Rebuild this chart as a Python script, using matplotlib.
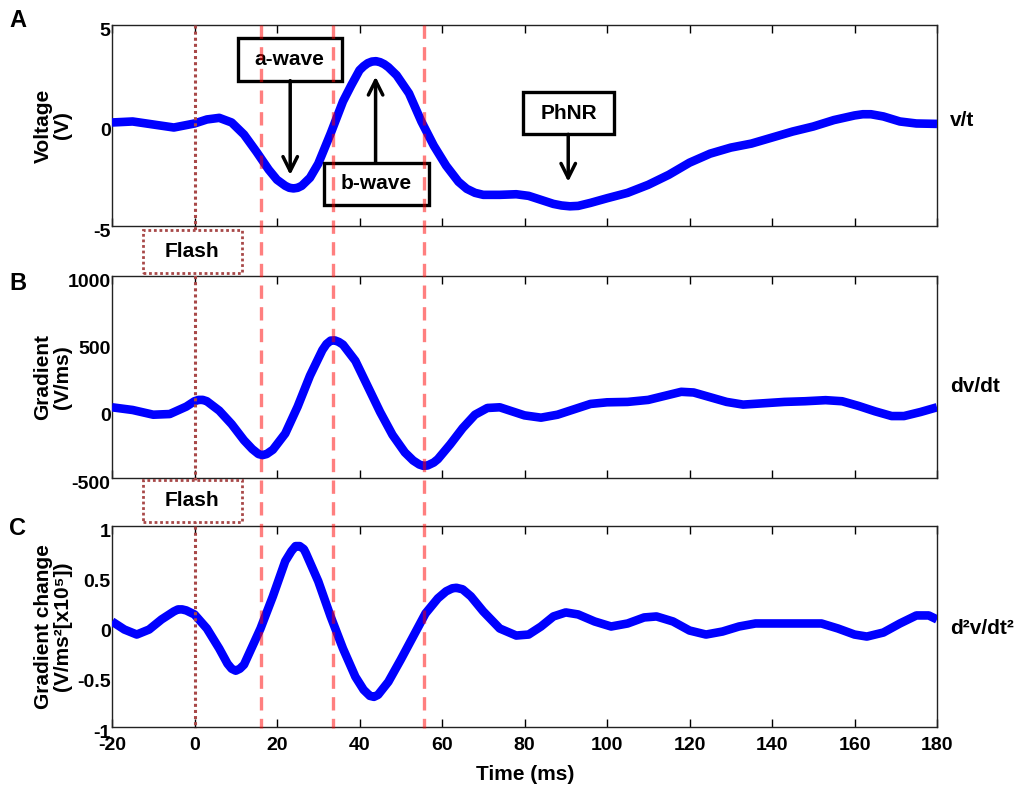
import matplotlib
matplotlib.use("Agg")
import matplotlib.pyplot as plt
from matplotlib.patches import Rectangle
from matplotlib.lines import Line2D
import matplotlib.transforms as mtransforms

plt.rcParams['font.family'] = ['Liberation Sans', 'DejaVu Sans']
plt.rcParams['font.weight'] = 'bold'
plt.rcParams['axes.unicode_minus'] = False

# ---------------- data ----------------
t_a = [-20, -15, -10, -5, 0, 3, 6, 9, 12, 15, 18, 20, 22, 23, 24, 25, 26, 28, 30, 33, 36, 38,
       40, 41, 42, 43, 44, 45, 46, 47, 49, 52, 55, 58, 61, 64, 66, 68, 70, 74, 78, 81, 84,
       87, 89, 91, 93, 96, 100, 105, 110, 115, 120, 125, 130, 135, 140, 145, 150, 155, 160,
       162, 164, 167, 171, 175, 180]
v_a = [0.15, 0.2, 0.05, -0.1, 0.1, 0.3, 0.38, 0.15, -0.45, -1.3, -2.2, -2.7, -3.0, -3.1,
       -3.13, -3.1, -3.0, -2.6, -1.9, -0.4, 1.2, 2.0, 2.75, 2.95, 3.1, 3.18, 3.2, 3.15, 3.05,
       2.9, 2.5, 1.6, 0.2, -1.0, -2.0, -2.8, -3.15, -3.35, -3.45, -3.45, -3.42, -3.5, -3.7,
       -3.9, -3.98, -4.02, -4.0, -3.85, -3.62, -3.35, -2.95, -2.45, -1.85, -1.4, -1.1, -0.9,
       -0.6, -0.3, -0.05, 0.27, 0.5, 0.56, 0.56, 0.45, 0.2, 0.1, 0.08]

t_b = [-20, -15, -10, -6, -2, 0, 1, 2, 3, 6, 9, 12, 14, 15.5, 16.5, 17.5, 19, 22, 25, 28,
       31, 32, 33, 34, 35, 36, 39, 42, 45, 48, 51, 53, 54.5, 55.5, 56.5, 58, 59, 62, 65,
       68, 71, 74, 77, 80, 84, 88, 92, 96, 100, 105, 110, 114, 118, 121, 125, 129, 133,
       138, 143, 148, 153, 157, 161, 165, 169, 172, 176, 180]
v_b = [25, 5, -30, -25, 30, 70, 80, 80, 70, 0, -100, -220, -285, -322, -330, -322, -290,
       -170, 30, 260, 450, 495, 520, 522, 510, 490, 370, 180, -10, -180, -310, -370, -400,
       -410, -407, -385, -360, -250, -130, -30, 20, 25, -5, -35, -52, -30, 10, 50, 62, 65,
       80, 110, 140, 135, 100, 65, 45, 55, 65, 70, 78, 70, 35, -5, -40, -40, -10, 25]

t_c = [-20, -17, -14, -11, -8, -5, -4, -3, -2, 0, 3, 6, 8, 9, 10, 11, 12, 14, 16, 19, 22,
       23.5, 24.5, 25.5, 26.5, 27, 30, 33, 36, 39, 41, 42.5, 43.5, 44.5, 47, 50, 53, 56, 59,
       61, 62.5, 63.5, 65, 67, 70, 74, 78, 81, 84, 87, 90, 93, 97, 101, 105, 109, 112, 116,
       120, 124, 128, 132, 136, 145, 152, 156, 160, 163, 167, 171, 175, 178, 180]
v_c = [0.05, -0.03, -0.08, -0.03, 0.07, 0.15, 0.17, 0.17, 0.16, 0.12, -0.02, -0.22, -0.37,
       -0.42, -0.44, -0.42, -0.38, -0.2, -0.02, 0.3, 0.65, 0.75, 0.8, 0.8, 0.77, 0.73, 0.45,
       0.1, -0.22, -0.5, -0.63, -0.69, -0.7, -0.68, -0.55, -0.33, -0.1, 0.13, 0.28, 0.35,
       0.38, 0.385, 0.37, 0.3, 0.15, -0.02, -0.09, -0.08, 0.0, 0.1, 0.14, 0.12, 0.05, 0.0,
       0.03, 0.09, 0.1, 0.05, -0.04, -0.08, -0.05, 0.0, 0.03, 0.03, 0.03, -0.02, -0.08, -0.1,
       -0.06, 0.03, 0.11, 0.11, 0.07]

x_ticks = [-20, 0, 20, 40, 60, 80, 100, 120, 140, 160, 180]
yticks_a = [-5, 0, 5]
yticks_b = [-500, 0, 500, 1000]
yticks_c = [-1, -0.5, 0, 0.5, 1]
ytl_c = ['-1', '-0.5', '0', '0.5', '1']
flash_t = 0
marker_t = [16, 33.5, 55.7]

ylabels = ["Voltage\n(V)", "Gradient\n(V/ms)", "Gradient change\n(V/ms\u00b2[x10\u2075])"]
right_labels = ["v/t", "dv/dt", "d\u00b2v/dt\u00b2"]

# ---------------- figure ----------------
W, H = 1020, 795
fig = plt.figure(figsize=(W / 100, H / 100), dpi=100)

def fx(px):
    return px / W

def fy(py):
    return 1 - py / H

left, right = 112, 937
panels = [(25, 226), (276, 478), (526, 727)]
axes = []
for top, bot in panels:
    ax = fig.add_axes([fx(left), fy(bot), fx(right - left), (bot - top) / H])
    axes.append(ax)

series = [(t_a, v_a, (-5, 5), yticks_a, [str(v) for v in yticks_a]),
          (t_b, v_b, (-500, 1000), yticks_b, [str(v) for v in yticks_b]),
          (t_c, v_c, (-1, 1), yticks_c, ytl_c)]

offset = mtransforms.ScaledTranslation(0, -3 / 72, fig.dpi_scale_trans)
for i, (ax, (t, v, yl, yt, ytl)) in enumerate(zip(axes, series)):
    ax.plot(t, v, color='#0000ff', lw=6.2, solid_capstyle='butt', solid_joinstyle='round', zorder=3)
    ax.set_xlim(-20, 180)
    ax.set_ylim(*yl)
    ax.set_xticks(x_ticks)
    ax.set_xticklabels([str(x) for x in x_ticks])
    ax.set_yticks(yt)
    ax.set_yticklabels(ytl)
    ax.tick_params(axis='x', direction='in', top=True, bottom=True, length=6, width=1,
                   labelsize=14, pad=7, labelbottom=(i == 2))
    ax.tick_params(axis='y', length=0, labelsize=14, pad=1)
    for lab in ax.get_yticklabels():
        lab.set_transform(lab.get_transform() + offset)
    for sp in ax.spines.values():
        sp.set_linewidth(1.0)
        sp.set_color('#222222')
    ax.set_ylabel(ylabels[i], fontsize=15, fontweight='bold', linespacing=1.0)
    ax.yaxis.set_label_coords(-0.049, 0.5)

# vertical marker lines across all panels
blend = mtransforms.blended_transform_factory(axes[0].transData, fig.transFigure)
fig.add_artist(Line2D([flash_t, flash_t], [fy(25), fy(728)], transform=blend,
                      color='#a84848', lw=2.2, ls=(0, (1, 1)), zorder=4))
for mt in marker_t:
    fig.add_artist(Line2D([mt, mt], [fy(25), fy(728)], transform=blend,
                          color='#ff0000', alpha=0.5, lw=2.4, ls=(0, (4, 2.5)), zorder=4))

# Flash boxes
for top, bot in [(230, 273), (480, 522)]:
    r = Rectangle((-12.4, fy(bot)), 23.8, (bot - top) / H, transform=blend,
                  facecolor='white', edgecolor='#a84848', lw=2, ls=(0, (1, 1)), zorder=5)
    fig.add_artist(r)
    fig.text(fx(192), fy((top + bot) / 2), "Flash", ha='center', va='center',
             fontsize=15, fontweight='bold', zorder=6)

# annotation boxes in panel A
axA = axes[0]
boxes = [("a-wave", (10.5, 35.7, 2.23, 4.35), (23.2, 2.23), (23.2, -2.46)),
         ("b-wave", (31.5, 56.8, -3.96, -1.85), (43.9, -1.85), (43.9, 2.43)),
         ("PhNR", (79.7, 101.7, -0.44, 1.65), (90.6, -0.44), (90.6, -2.8))]
for txt, (x0, x1, y0, y1), start, end in boxes:
    axA.add_patch(Rectangle((x0, y0), x1 - x0, y1 - y0, facecolor='white', edgecolor='black',
                            lw=2.4, zorder=6, clip_on=False))
    axA.text((x0 + x1) / 2, (y0 + y1) / 2, txt, ha='center', va='center', fontsize=15,
             fontweight='bold', zorder=7)
    axA.annotate("", xy=end, xytext=start,
                 arrowprops=dict(arrowstyle='->', color='black', lw=2.5, mutation_scale=26,
                                 shrinkA=0, shrinkB=0), zorder=6)

# right-side labels
for lab, yy in zip(right_labels, [121, 386, 628]):
    fig.text(fx(950), fy(yy), lab, ha='left', va='center', fontsize=15, fontweight='bold')

# panel letters
for lab, yy in zip("ABC", [27, 290, 535]):
    fig.text(fx(9), fy(yy), lab, ha='left', va='baseline', fontsize=17, fontweight='bold')

fig.text(fx(525), fy(775), "Time (ms)", ha='center', va='center', fontsize=15, fontweight='bold')

fig.savefig("out.png", dpi=100)
